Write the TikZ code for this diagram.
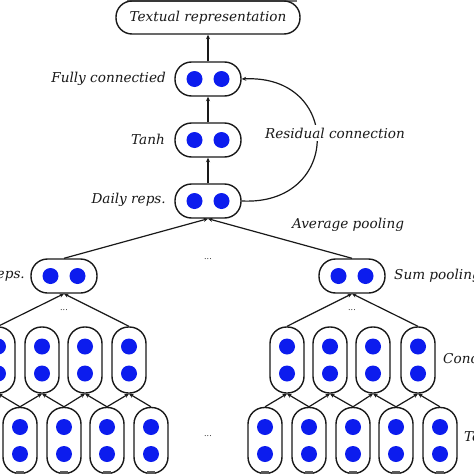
\documentclass[tikz,border=0pt]{standalone}
\usepackage{fontspec}
\setmainfont{DejaVu Serif}
\usetikzlibrary{arrows.meta}
\definecolor{dotblue}{RGB}{12,28,238}
\definecolor{ink}{RGB}{25,25,25}
\tikzset{
  hpill/.style={draw=ink, line width=1.4pt, rounded corners=16.5pt, minimum width=66pt, minimum height=34pt, inner sep=0pt, fill=white},
  vpill/.style={draw=ink, line width=1.4pt, rounded corners=16.5pt, minimum width=34pt, minimum height=66pt, inner sep=0pt, fill=white},
  bdot/.style={circle, fill=dotblue, minimum size=16pt, inner sep=0pt},
  lbl/.style={text=ink, font=\itshape\fontsize{13.6}{15}\selectfont, inner sep=0pt},
  ell/.style={text=ink, font=\fontsize{8}{9}\selectfont, inner sep=0pt},
  conn/.style={draw=ink, line width=1.2pt, -{Stealth[length=4.5pt,width=4pt]}},
  stub/.style={fill=black!65},
}
\newcommand\hpillat[3]{%
  \node[hpill] (#1) at (#2,#3) {};
  \node[bdot] (#1a) at (#2-13.5,#3) {};
  \node[bdot] (#1b) at (#2+13.5,#3) {};}
\newcommand\vpillat[3]{%
  \node[vpill] (#1) at (#2,#3) {};
  \node[bdot] (#1a) at (#2,#3-13.5) {};
  \node[bdot] (#1b) at (#2,#3+13.5) {};}
\begin{document}
\begin{tikzpicture}[x=1pt,y=-1pt]
\useasboundingbox (0,0) rectangle (474,474);
\clip (0,0) rectangle (474,474);
\fill[white] (0,0) rectangle (474,474);
% top grey strip
\fill[black!55] (127,0) rectangle (297,2);

% top output node
\node[draw=ink, line width=1.4pt, rounded corners=16pt, minimum width=184pt, minimum height=33pt, inner sep=0pt,
      text=ink, font=\itshape\fontsize{13.6}{15}\selectfont] (txt) at (208,17.5) {Textual representation};

\hpillat{fc}{208}{79}
\hpillat{tanh}{208}{140}
\hpillat{daily}{208}{201}

\draw[conn] (fc) -- (txt);
\draw[conn] (tanh) -- (fc);
\draw[conn] (daily) -- (tanh);

\node[lbl, anchor=east] (lfc) at (166,79) {Fully connectied};
\node[lbl, anchor=east] (ltanh) at (165,139) {Tanh};
\node[lbl, anchor=east] (ldaily) at (166,200) {Daily reps.};

% residual connection
\draw[conn] (daily.east) .. controls (342,206) and (342,74) .. (fc.east);
\node[lbl, fill=white, inner sep=3pt] (lres) at (335,133) {Residual connection};

\node[lbl] (lavg) at (348,225) {Average pooling};

% second level
\hpillat{wl}{64}{276}
\hpillat{wr}{352}{276}
\draw[conn] (wl.north) -- (daily.south);
\draw[conn] (wr.north) -- (daily.south);
\node[lbl, anchor=east] (lwl) at (25,275) {Tweet reps.};
\node[lbl, anchor=west] (lwr) at (394,276) {Sum pooling};
\node[ell] (e1) at (208,259) {...};
\node[ell] (e2) at (64,310) {...};
\node[ell] (e3) at (352,310) {...};
\node[ell] (e4) at (208,436) {...};

% concatenation level
\vpillat{c0}{-2}{360}
\vpillat{c1}{42}{360}
\vpillat{c2}{85}{360}
\vpillat{c3}{129}{360}
\vpillat{d0}{287}{360}
\vpillat{d1}{330}{360}
\vpillat{d2}{373}{360}
\vpillat{d3}{418}{360}
\draw[conn] (c0.north) -- (wl.south);
\draw[conn] (c3.north) -- (wl.south);
\draw[conn] (d0.north) -- (wr.south);
\draw[conn] (d3.north) -- (wr.south);
\node[lbl, anchor=west] (lcat) at (443,359) {Concatenation};

% token level
\vpillat{t0}{20}{440.5}
\vpillat{t1}{64}{440.5}
\vpillat{t2}{107}{440.5}
\vpillat{t3}{151}{440.5}
\vpillat{u0}{265}{440.5}
\vpillat{u1}{309}{440.5}
\vpillat{u2}{353}{440.5}
\vpillat{u3}{396}{440.5}
\vpillat{u4}{440}{440.5}
\node[lbl, anchor=west] (ltok) at (464,438) {Token reps.};

\foreach \t/\c in {t0/c0,t0/c1,t1/c1,t1/c2,t2/c2,t2/c3,t3/c3,
                   u0/d0,u1/d0,u1/d1,u2/d1,u2/d2,u3/d2,u3/d3,u4/d3}{
  \draw[conn] (\t.north) -- (\c.south);
}
% stubs at the bottom edge
\foreach \x in {20,64,107,151,265,309,353,396,440}{
  \fill[stub] (\x-4,471) rectangle (\x+4,474);
}
\end{tikzpicture}
\end{document}
